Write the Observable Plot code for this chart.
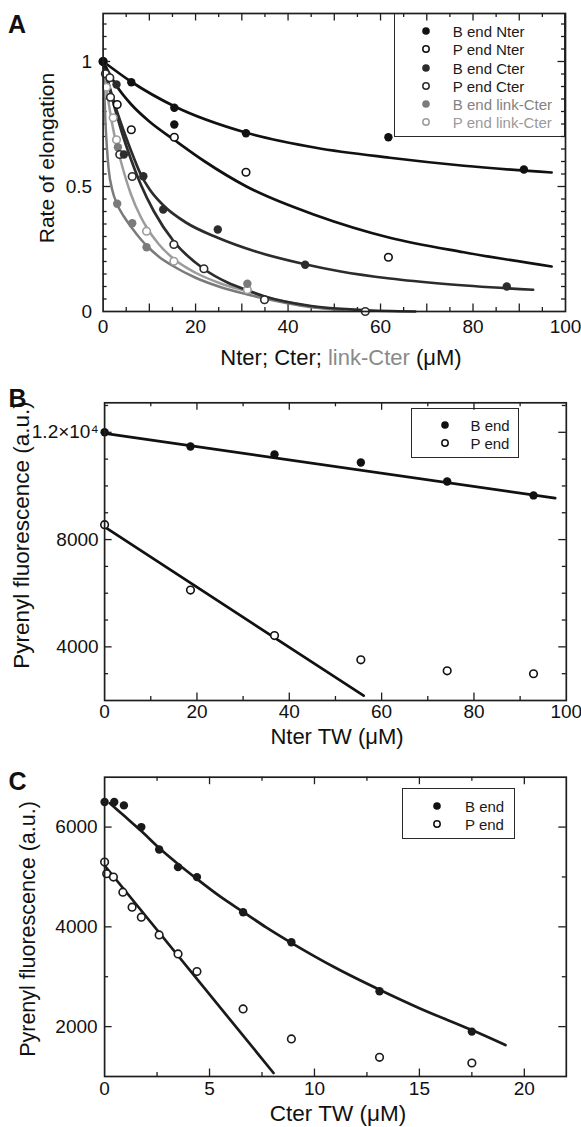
<!DOCTYPE html>
<html><head><meta charset="utf-8">
<script src="https://cdn.jsdelivr.net/npm/d3@7"></script>
<script src="https://cdn.jsdelivr.net/npm/@observablehq/plot@0.6"></script>
<style>
body{margin:0;background:#fff;}
#root{position:relative;width:581px;height:1127px;overflow:hidden;background:#fff;font-family:"Liberation Sans",Arial,Helvetica,sans-serif;color:#111;}
.t{position:absolute;white-space:nowrap;line-height:1;transform:translate(-50%,-50%);}
.yt{position:absolute;white-space:nowrap;line-height:1;transform:translate(-50%,-50%) rotate(-90deg);}
.lt{position:absolute;white-space:nowrap;line-height:1;transform:translate(0,-50%);}
.leg{position:absolute;border:1.6px solid #2a2a2a;box-sizing:border-box;}
.pl{position:absolute;left:0;}
.pl svg{overflow:visible;}
</style></head>
<body><div id="root"></div>
<script>
// ---------------- Panel A data ----------------
const aXTicks = [0, 20, 40, 60, 80, 100];
const aYTicks = [0, 0.5, 1];
const aBNter = [[0,1],[6.1,0.917],[15.4,0.815],[15.4,0.748],[30.9,0.713],[61.7,0.697],[91,0.568]];
const aPNter = [[0,1],[3.05,0.828],[6.1,0.727],[15.4,0.697],[30.9,0.557],[61.7,0.217]];
const aBCter = [[2.9,0.908],[4.5,0.628],[8.7,0.541],[13.0,0.408],[24.8,0.328],[43.7,0.187],[87.3,0.1]];
const aPCter = [[0.5,0.951],[1.45,0.935],[1.6,0.857],[3.6,0.628],[6.3,0.54],[15.3,0.268],[21.8,0.171],[34.9,0.047],[56.7,0]];
const aBLink = [[3.2,0.657],[3.05,0.431],[6.3,0.353],[9.4,0.257],[31.2,0.111]];
const aPLink = [[0,1],[0.74,0.897],[2.18,0.775],[2.9,0.687],[9.4,0.321],[15.3,0.201],[31.2,0.087]];
const aFitBNter = [[0,1],[6,0.92],[15.5,0.82],[31,0.715],[46,0.655],[62,0.615],[78,0.583],[97,0.556]];
const aFitPNter = [[0,1],[3,0.9],[6,0.83],[10,0.76],[15.5,0.685],[22,0.6],[31,0.5],[46,0.385],[62,0.295],[78,0.237],[97,0.18]];
const aFitBCter = [[0,1],[1,0.925],[2,0.86],[3,0.8],[4.5,0.72],[6,0.645],[8.1,0.55],[10,0.49],[13,0.425],[18,0.355],[24.8,0.295],[33,0.24],[43.4,0.19],[51.4,0.16],[62,0.132],[74,0.11],[93,0.087]];
const aFitPCter = [[0,1],[2,0.85],[4,0.72],[6,0.61],[8.1,0.51],[11,0.4],[15.3,0.28],[21.8,0.17],[27,0.115],[31.2,0.085],[35,0.06],[45,0.022],[56,0.006],[67.5,0]];
const aFitBLink = [[0,1],[0.5,0.76],[1.2,0.57],[2,0.485],[3,0.43],[4.5,0.38],[6.2,0.335],[8.1,0.29],[9.5,0.262],[12,0.22],[15.3,0.18],[20,0.135],[25,0.1],[31.2,0.068],[38,0.04],[44,0.02],[52,0.006]];
const aFitPLink = [[0,1],[0.7,0.9],[1.5,0.8],[2.5,0.7],[4,0.59],[6,0.47],[8.1,0.38],[9.3,0.34],[12,0.27],[15.3,0.21],[20,0.155],[25,0.115],[31.2,0.08],[38,0.045],[45,0.02],[55,0.003]];
const aLegendLabels = ["B end Nter","P end Nter","B end Cter","P end Cter","B end link-Cter","P end link-Cter"];

// ---------------- Panel B data ----------------
const bXTicks = [0, 20, 40, 60, 80, 100];
const bYTicks = [4000, 8000, 12000];
const bX = [0, 18.6, 36.8, 55.5, 74.2, 92.9];
const bBEnd = [12000, 11470, 11170, 10873, 10167, 9647];
const bPEnd = [8557, 6118, 4421, 3517, 3108, 2997];
const bFitB = [[0,11963],[97.6,9548]];
const bFitP = [[0,8470],[56.1,2180]];
const bLegendLabels = ["B end","P end"];

// ---------------- Panel C data ----------------
const cXTicks = [0, 5, 10, 15, 20];
const cYTicks = [2000, 4000, 6000];
const cBX = [0, 0.46, 0.92, 1.75, 2.6, 3.5, 4.4, 6.6, 8.9, 13.1, 17.5];
const cBEnd = [6502, 6502, 6435, 6000, 5552, 5197, 4997, 4294, 3692, 2709, 1900];
const cPX = [0, 0.1, 0.42, 0.87, 1.31, 1.75, 2.6, 3.5, 4.4, 6.6, 8.9, 13.1, 17.5];
const cPEnd = [5298, 5065, 4997, 4696, 4395, 4194, 3839, 3458, 3104, 2355, 1753, 1385, 1271];
const cFitB = [[0.25,6480],[1,6200],[1.75,5920],[2.6,5580],[3.5,5260],[4.4,4960],[5.5,4610],[6.6,4300],[7.7,3990],[8.9,3680],[11,3180],[13.1,2740],[15,2370],[17.5,1930],[19.1,1630]];
const cFitP = [[0,5230],[8.05,1070]];
const cLegendLabels = ["B end","P end"];

// ---------------- helpers ----------------
const FONT = '"Liberation Sans", Arial, Helvetica, sans-serif';
const root = document.getElementById("root");
const INK = "#1e1e1e";

function text(html, x, y, size, cls = "t", extra = "") {
  const d = document.createElement("div");
  d.className = cls;
  d.style.cssText = `left:${x}px;top:${y}px;font-size:${size}px;${extra}`;
  d.innerHTML = html;
  root.appendChild(d);
  return d;
}

function legend(box, entries, mx, tx, rows) {
  const b = document.createElement("div");
  b.className = "leg";
  b.style.cssText = `left:${box[0]}px;top:${box[1]}px;width:${box[2]}px;height:${box[3]}px;`;
  root.appendChild(b);
  entries.forEach((e, i) => {
    const s = document.createElementNS("http://www.w3.org/2000/svg", "svg");
    s.setAttribute("width", 12); s.setAttribute("height", 12);
    s.style.cssText = `position:absolute;left:${mx - 6}px;top:${rows[i] - 6}px;`;
    const c = document.createElementNS("http://www.w3.org/2000/svg", "circle");
    c.setAttribute("cx", 6); c.setAttribute("cy", 6);
    c.setAttribute("r", e.open ? 3.2 : 3.8);
    c.setAttribute("fill", e.open ? "#fff" : e.color);
    c.setAttribute("stroke", e.color);
    c.setAttribute("stroke-width", e.open ? 1.5 : 0);
    s.appendChild(c);
    root.appendChild(s);
    text(e.label, tx, rows[i], 15, "lt", `color:${e.text};`);
  });
}

function panel(cfg) {
  const {top, height, mt, mb, ml, mr, xDomain, yDomain, xLabels, yLabels, yFmt,
         xMinor, xMajor, yMinor, yMajor, xPad, yPad, marks} = cfg;
  const width = 581;
  const iw = width - ml - mr, ih = height - mt - mb;
  const ts = {stroke: INK, strokeWidth: 1.3};
  const tickMarks = [];
  const addX = (vals, len) => {
    tickMarks.push(Plot.ruleX(vals, {...ts, insetTop: ih - len}));
    tickMarks.push(Plot.ruleX(vals, {...ts, insetBottom: ih - len}));
  };
  const addY = (vals, len) => {
    tickMarks.push(Plot.ruleY(vals, {...ts, insetRight: iw - len}));
    tickMarks.push(Plot.ruleY(vals, {...ts, insetLeft: iw - len}));
  };
  addX(xMinor, 4); addX(xMajor, 7.5);
  addY(yMinor, 4); addY(yMajor, 7.5);
  const svg = Plot.plot({
    width, height,
    marginTop: mt, marginBottom: mb, marginLeft: ml, marginRight: mr,
    x: {domain: xDomain, ticks: xLabels, tickSize: 0, tickPadding: xPad, label: null, tickFormat: d => String(d)},
    y: {domain: yDomain, ticks: yLabels, tickSize: 0, tickPadding: yPad, label: null, tickFormat: yFmt || (d => String(d))},
    style: {fontSize: "19px", fontFamily: FONT, color: "#111", background: "transparent", overflow: "visible"},
    marks: [...tickMarks, ...marks, Plot.frame({stroke: INK, strokeWidth: 1.7})]
  });
  const w = document.createElement("div");
  w.className = "pl";
  w.style.top = top + "px";
  w.appendChild(svg);
  root.appendChild(w);
}

const P = d => d[0], Q = d => d[1];
const fit = (data, stroke, sw = 2.7) => Plot.line(data, {x: P, y: Q, stroke, strokeWidth: sw, curve: "monotone-x"});
const filled = (data, fill, r = 4.2) => Plot.dot(data, {x: P, y: Q, r, fill, stroke: "none"});
const open = (data, stroke, r = 3.8) => Plot.dot(data, {x: P, y: Q, r, fill: "#fff", stroke, strokeWidth: 1.6});

// colours
const cBN = "#111", cPN = "#111", cBC = "#2c2c2c", cPC = "#2c2c2c", cBL = "#7b7b7b", cPL = "#9c9c9c";

// ---------------- legends (behind SVG) ----------------
legend([393.5, 13, 171.5, 124], [
  {label: aLegendLabels[0], color: cBN, text: "#1a1a1a"},
  {label: aLegendLabels[1], color: cPN, text: "#1a1a1a", open: true},
  {label: aLegendLabels[2], color: cBC, text: "#1a1a1a"},
  {label: aLegendLabels[3], color: cPC, text: "#1a1a1a", open: true},
  {label: aLegendLabels[4], color: cBL, text: "#828282"},
  {label: aLegendLabels[5], color: cPL, text: "#9a9a9a", open: true}
], 426, 452.8, [31, 49.3, 67.7, 86, 103.7, 121.7]);

legend([411, 408.3, 108, 50], [
  {label: bLegendLabels[0], color: "#111", text: "#1a1a1a"},
  {label: bLegendLabels[1], color: "#111", text: "#1a1a1a", open: true}
], 444.6, 470.5, [425, 442.7]);

legend([402, 788.3, 113, 51], [
  {label: cLegendLabels[0], color: "#111", text: "#1a1a1a"},
  {label: cLegendLabels[1], color: "#111", text: "#1a1a1a", open: true}
], 436.5, 465, [805.7, 824]);

// ---------------- Panel A ----------------
panel({
  top: 0, height: 380, mt: 13, mb: 69, ml: 102.6, mr: 16,
  xDomain: [0, 100], yDomain: [0, 1.192],
  xLabels: aXTicks, yLabels: aYTicks, xPad: 8, yPad: 11,
  xMinor: d3.range(5, 100, 10), xMajor: d3.range(10, 100, 10),
  yMinor: d3.range(0.05, 1.19, 0.05).filter(v => Math.abs(v * 2 - Math.round(v * 2)) > 1e-6),
  yMajor: [0.5, 1],
  marks: [
    fit(aFitPLink, cPL, 2.5), fit(aFitBLink, cBL, 2.5),
    fit(aFitPCter, cPC), fit(aFitBCter, cBC),
    fit(aFitPNter, cPN), fit(aFitBNter, cBN),
    open(aPLink, cPL), filled(aBLink, cBL),
    open(aPCter, cPC), filled(aBCter, cBC),
    open(aPNter, cPN), filled(aBNter, cBN)
  ]
});

// ---------------- Panel B ----------------
panel({
  top: 380, height: 345, mt: 22.3, mb: 25, ml: 104.1, mr: 15.2,
  xDomain: [0, 100], yDomain: [2000, 13100],
  xLabels: bXTicks, yLabels: bYTicks, xPad: 4, yPad: 6,
  yFmt: d => d === 12000 ? "1.2×10⁴" : String(d),
  xMinor: d3.range(10, 100, 20), xMajor: d3.range(20, 100, 20),
  yMinor: d3.range(3000, 13100, 1000).filter(v => v % 4000 !== 0), yMajor: bYTicks,
  marks: [
    fit(bFitB, "#111"), fit(bFitP, "#111"),
    filled(bX.map((x, i) => [x, bBEnd[i]]), "#111"),
    open(bX.map((x, i) => [x, bPEnd[i]]), "#111")
  ]
});

// ---------------- Panel C ----------------
panel({
  top: 740, height: 387, mt: 36.7, mb: 51, ml: 104.1, mr: 15.2,
  xDomain: [0, 22], yDomain: [1000, 7000],
  xLabels: cXTicks, yLabels: cYTicks, xPad: 5, yPad: 7,
  xMinor: d3.range(2.5, 22, 5), xMajor: d3.range(5, 22, 5),
  yMinor: [3000, 5000], yMajor: cYTicks,
  marks: [
    fit(cFitB, "#1a1a1a"), fit(cFitP, "#1a1a1a"),
    filled(cBX.map((x, i) => [x, cBEnd[i]]), "#1a1a1a"),
    open(cPX.map((x, i) => [x, cPEnd[i]]), "#1a1a1a")
  ]
});

// ---------------- titles & panel letters ----------------
text("A", 17, 24, 25, "t", "font-weight:bold;");
text("B", 17.5, 398, 25, "t", "font-weight:bold;");
text("C", 17.5, 781, 25, "t", "font-weight:bold;");
text("Rate of elongation", 46, 157.5, 21, "yt");
text('Nter; Cter; <span style="color:#8a8a8a">link-Cter</span> (μM)', 341, 358, 22);
text("Pyrenyl fluorescence (a.u.)", 22, 535, 22.5, "yt");
text("Nter TW (μM)", 337, 737, 22);
text("Pyrenyl fluorescence (a.u.)", 28.5, 929, 21.5, "yt");
text("Cter TW (μM)", 338, 1114, 22.5);
</script>
</body></html>
